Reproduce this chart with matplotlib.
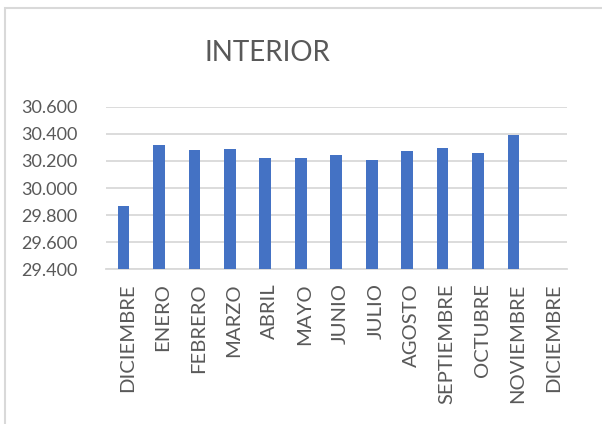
import numpy as np
import matplotlib
matplotlib.use("Agg")
import matplotlib.pyplot as plt
from matplotlib.patches import Rectangle
from matplotlib.ticker import FuncFormatter
from matplotlib.transforms import ScaledTranslation

plt.rcParams['font.family'] = ['Lato', 'DejaVu Sans']

# datos
meses = ["DICIEMBRE", "ENERO", "FEBRERO", "MARZO", "ABRIL", "MAYO", "JUNIO",
         "JULIO", "AGOSTO", "SEPTIEMBRE", "OCTUBRE", "NOVIEMBRE", "DICIEMBRE"]
valores = [29.865, 30.315, 30.278, 30.288, 30.221, 30.221, 30.241,
           30.204, 30.271, 30.297, 30.261, 30.393, np.nan]
y_ticks = [29.4, 29.6, 29.8, 30.0, 30.2, 30.4, 30.6]

GRIS = "#595959"
LINEA = "#d9d9d9"
AZUL = "#4472C4"

W, H = 602, 424
fig = plt.figure(figsize=(W / 100, H / 100), dpi=100)
ax = fig.add_axes([105.7 / W, 1 - 269.3 / H, 461 / W, 162.6 / H])

x = np.arange(len(meses))
ax.bar(x, valores, width=0.33, color=AZUL, zorder=3)

ax.set_xlim(-0.5, len(meses) - 0.5)
ax.set_ylim(y_ticks[0], y_ticks[-1])
ax.set_yticks(y_ticks)
ax.yaxis.set_major_formatter(FuncFormatter(lambda v, p: f"{v:.3f}"))
ax.set_xticks(x)
ax.set_xticklabels(meses, rotation=90, va="top", ha="center")

ax.tick_params(axis="both", length=0, colors=GRIS)
ax.tick_params(axis="x", pad=10, labelsize=14.6)
ax.tick_params(axis="y", pad=20, labelsize=13)
# las etiquetas giradas de Excel quedan un poco a la derecha
desplaza = ScaledTranslation(3 / 72, 0, fig.dpi_scale_trans)
for lbl in ax.get_xticklabels():
    lbl.set_transform(lbl.get_transform() + desplaza)

ax.grid(axis="y", color=LINEA, linewidth=1.3, zorder=0)
for s in ["top", "right", "left"]:
    ax.spines[s].set_visible(False)
ax.spines["bottom"].set_color(LINEA)
ax.spines["bottom"].set_linewidth(1.3)

fig.text(267 / W, 1 - 53 / H, "INTERIOR", ha="center", va="center",
         fontsize=20, color=GRIS)

# borde del area del grafico (recortado a la derecha y abajo)
fig.patches.append(Rectangle((5 / W, -0.1), 1.2, 1 - 8 / H + 0.1,
                             transform=fig.transFigure, fill=False,
                             edgecolor=LINEA, linewidth=1.5))

fig.savefig("out.png", dpi=100, facecolor="white")
